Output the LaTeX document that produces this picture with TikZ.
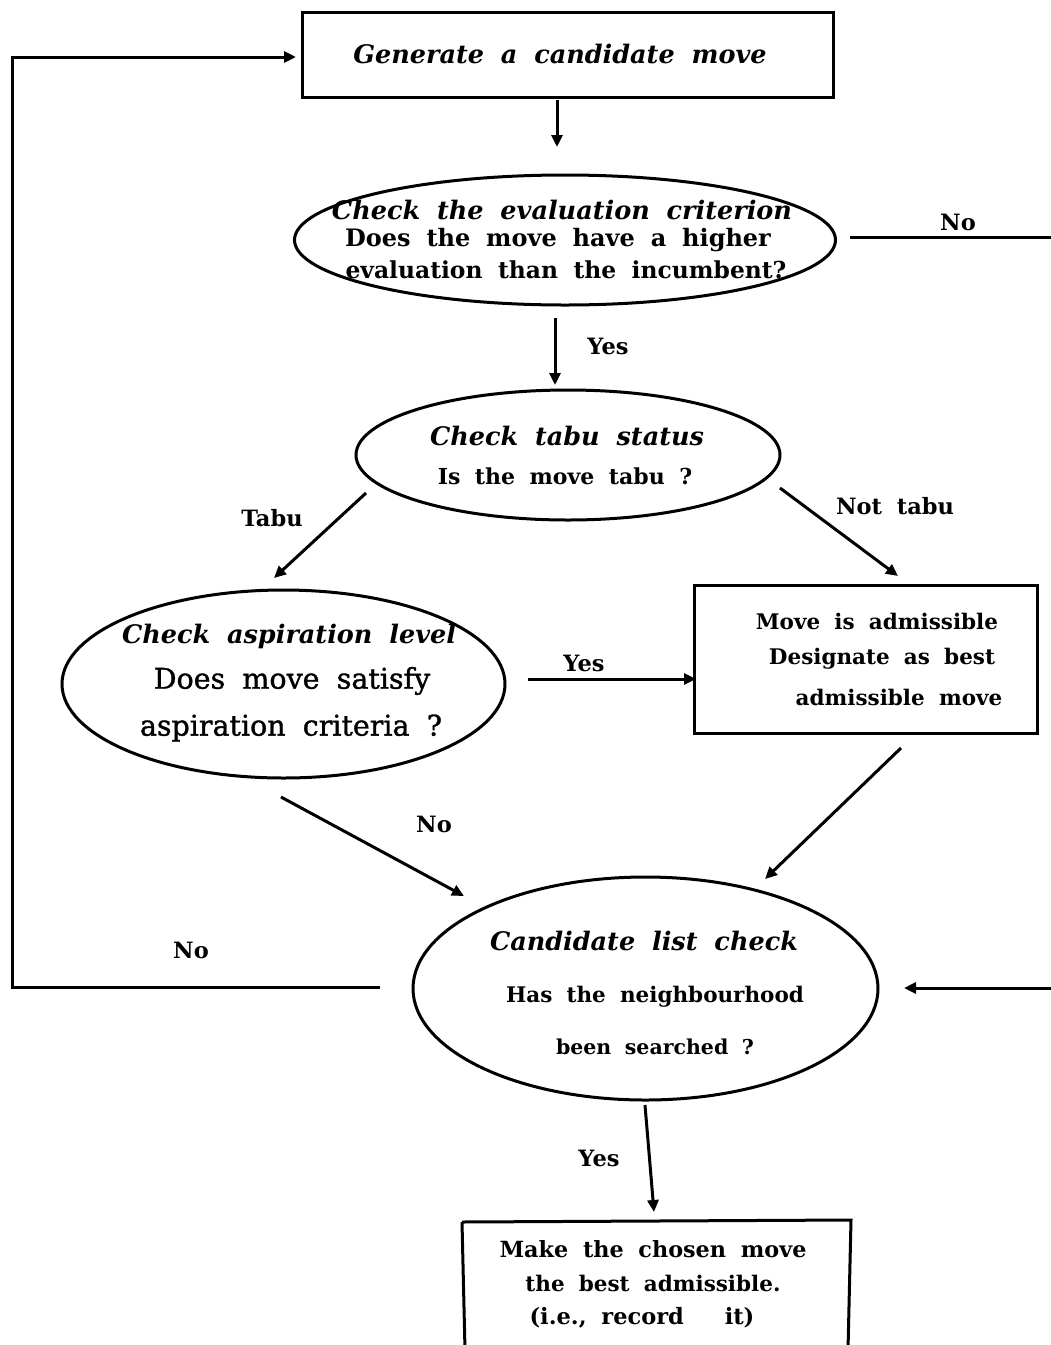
\documentclass[tikz,border=0pt]{standalone}
\usepackage{fontspec}
\setmainfont[WordSpace=1.9]{DejaVu Serif}
\newfontfamily\medserif[WordSpace=1.9,FakeBold=1.2]{DejaVu Serif}
\usetikzlibrary{shapes.geometric,arrows.meta}

\begin{document}
\begin{tikzpicture}[x=1pt,y=-1pt,
  line width=3pt,
  flow/.style={-{Triangle[length=12pt,width=11pt]}},
  boxed/.style={draw,rectangle,inner sep=0pt},
  oval/.style={draw,ellipse,inner sep=0pt},
  head/.style={font=\fontsize{25.5}{30}\selectfont\bfseries\itshape},
  body/.style={font=\fontsize{#1}{28}\selectfont\bfseries},
  body/.default=24,
  plain/.style={font=\fontsize{28.5}{33}\selectfont\medserif},
  lbl/.style={font=\fontsize{22.5}{26}\selectfont\bfseries}]
\useasboundingbox (0,0) rectangle (1051,1345);

% boxes and ovals
\node[boxed,minimum width=531pt,minimum height=85pt] (gen) at (567.5,54.5) {};
\node[oval,minimum width=541pt,minimum height=130pt] (eval) at (565,240) {};
\node[oval,minimum width=424pt,minimum height=130pt] (tabu) at (568,455) {};
\node[oval,minimum width=443pt,minimum height=188pt] (asp) at (283.5,684) {};
\node[boxed,minimum width=343pt,minimum height=148pt] (adm) at (865.5,659) {};
\node[oval,minimum width=465pt,minimum height=223pt] (cand) at (645.5,988.5) {};
\draw (462,1222) coordinate (mk1) -- (851,1220) coordinate (mk2)
      -- (848,1350) coordinate (mk3);
\draw (mk1) -- (465,1350) coordinate (mk4);
\node[inner sep=0pt] (mk) at (656,1283) {};

% texts
\node[head] (t1) at (560,54) {Generate a candidate move};
\node[head] (t2) at (562,210) {Check the evaluation criterion};
\node[body] (t3) at (558,240) {Does the move have a higher};
\node[body=23.4] (t4) at (566,270) {evaluation than the incumbent?};
\node[head] (t5) at (567,436) {Check tabu status};
\node[body=22] (t6) at (565,476) {Is the move tabu ?};
\node[head] (t7) at (289,636) {Check aspiration level};
\node[plain] (t8) at (292,681) {Does move satisfy};
\node[plain] (t9) at (291,728) {aspiration criteria ?};
\node[body=21.5] (t10) at (877,621) {Move is admissible};
\node[body=21.5] (t11) at (882,659) {Designate as best};
\node[body=21.5] (t12) at (899,697) {admissible move};
\node[head] (t13) at (644,941) {Candidate list check};
\node[body=21.5] (t14) at (655,997) {Has the neighbourhood};
\node[body=20.5] (t15) at (655,1047) {been searched ?};
\node[body=22.3] (t16) at (653,1249) {Make the chosen move};
\node[body=21.5] (t17) at (653,1283) {the best admissible.};
\node[body=22.5] (t18) at (642,1318) {(i.e., record\hspace{26pt} it)};

% connector end points
\coordinate (a1) at (557,100);  \coordinate (b1) at (557,147);
\coordinate (a2) at (555,318);  \coordinate (b2) at (555,385);
\coordinate (a3) at (366,493);  \coordinate (b3) at (274,578);
\coordinate (a4) at (780,488);  \coordinate (b4) at (898,576);
\coordinate (a5) at (528,679);  \coordinate (b5) at (696,679);
\coordinate (a6) at (281,797);  \coordinate (b6) at (464,896);
\coordinate (a7) at (901,748);  \coordinate (b7) at (765,879);
\coordinate (a8) at (645,1105); \coordinate (b8) at (654,1212);
\coordinate (a9) at (380,987);  \coordinate (c9) at (12,987);
\coordinate (d9) at (12,57);    \coordinate (b9) at (296,57);
\coordinate (a10) at (850,237); \coordinate (b10) at (1051,237);
\coordinate (a11) at (1051,988);\coordinate (b11) at (904,988);

% connectors
\draw[flow] (a1) -- (b1);
\draw[flow] (a2) -- (b2);
\draw[flow] (a3) -- (b3);
\draw[flow] (a4) -- (b4);
\draw[flow] (a5) -- (b5);
\draw[flow] (a6) -- (b6);
\draw[flow] (a7) -- (b7);
\draw[flow] (a8) -- (b8);
\draw[flow] (a9) -- (c9) -- (d9) -- (b9);
\draw (a10) -- (b10);
\draw[flow] (a11) -- (b11);

% connector labels
\node[lbl] (l1) at (958,222) {No};
\node[lbl] (l2) at (608,346) {Yes};
\node[lbl] (l3) at (272,518) {Tabu};
\node[lbl] (l4) at (895,506) {Not tabu};
\node[lbl] (l5) at (584,663) {Yes};
\node[lbl] (l6) at (434,824) {No};
\node[lbl] (l7) at (191,950) {No};
\node[lbl] (l8) at (599,1158) {Yes};
\end{tikzpicture}
\end{document}
